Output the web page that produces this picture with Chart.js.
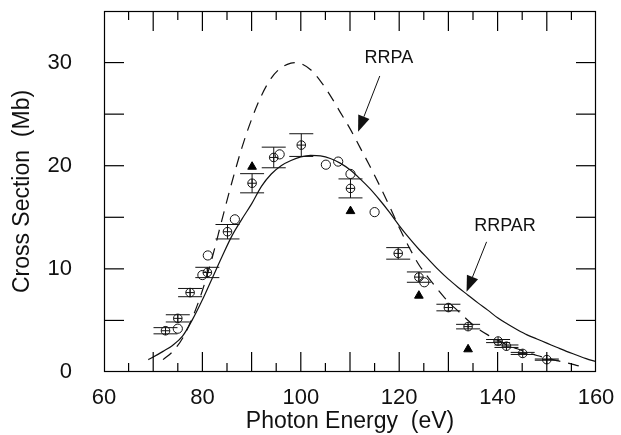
<!DOCTYPE html>
<html><head><meta charset="utf-8">
<script src="https://cdn.jsdelivr.net/npm/chart.js@4.4.0/dist/chart.umd.min.js"></script>
<style>html,body{margin:0;padding:0;background:#fff}#wrap{width:621px;height:435px}</style>
</head><body><div id="wrap"><canvas id="c" width="621" height="435"></canvas></div>
<script>
// RRPAR (solid curve)
const rrparEnergy = [69,70,72,74,76,78,80,82,84,86,88,90,92,94,96,98,100,102,104,106,108,110,112,114,116,118,120,122,124,126,128,130,132,134,136,138,140,142,144,146,148,150,152,154,156,158,160];
const rrparSigma  = [1.2,1.45,2.0,2.6,3.5,5.1,7.0,9.1,11.2,13.2,14.8,16.3,18.0,19.2,20.0,20.5,20.85,21.0,20.95,20.7,20.25,19.6,18.75,17.8,16.7,15.5,14.2,13.0,11.9,10.9,9.9,9.0,8.2,7.45,6.7,6.0,5.25,4.65,4.1,3.6,3.2,2.8,2.4,2.0,1.65,1.3,1.0];
// RRPA (dashed curve)
const rrpaEnergy = [72,74,76,78,80,82,84,86,88,90,92,94,96,98,99,100,102,104,106,108,110,112,114,116,118,120,122,124,126,128,130,132,134,136,138,140,142,144,146,148,150,152,154,156,158];
const rrpaSigma  = [1.2,2.0,3.3,5.3,7.9,11.1,14.8,18.4,21.7,24.5,26.8,28.5,29.5,29.95,30.0,29.9,29.3,28.2,26.8,25.2,23.6,21.8,20.0,18.1,16.1,14.0,12.1,10.4,9.1,7.9,6.8,5.9,5.0,4.2,3.6,3.1,2.6,2.25,1.9,1.6,1.35,1.1,0.9,0.65,0.4];
// Experiment A (crossed circles with error bars)
const expAEnergy = [72.5,75.0,77.5,81.0,85.1,90.1,94.5,100.1,110.1,119.8,124.0,130.0,134.0,140.1,141.8,145.1,150.0];
const expASigma  = [4.0,5.2,7.7,9.65,13.6,18.3,20.8,22.0,17.8,11.5,9.2,6.25,4.4,3.0,2.5,1.8,1.2];
const expAError  = [0.3,0.35,0.4,0.5,0.7,0.93,1.0,1.1,0.92,0.56,0.5,0.32,0.22,0.15,0.12,0.1,0.06];
// Experiment B (open circles)
const expBEnergy = [75.0,80.0,81.1,86.6,95.7,105.1,107.6,110.1,115.0,125.1];
const expBSigma  = [4.2,9.4,11.3,14.8,21.1,20.1,20.4,19.2,15.5,8.7];
// Experiment C (filled triangles)
const expCEnergy = [90.1,110.1,124.0,134.0];
const expCSigma  = [19.9,15.6,7.4,2.2];
// Axis ticks
const xTickValues = [60,80,100,120,140,160];
const yTickValues = [0,10,20,30];
const xMarkValues = [65,70,75,80,85,90,95,100,105,110,115,120,125,130,135,140,145,150,155];
const yMarkValues = [5,10,15,20,25,30];
// Curve labels
const curveLabels = ['RRPA','RRPAR'];
const labelAt  = [[117.9,30.4],[141.5,14.2]];
const arrowTail = [[116.05,28.7],[137.76,12.62]];
const arrowTip  = [[111.64,23.3],[133.69,7.77]];

const pts = (xs, ys) => xs.map((x,i)=>({x:x, y:ys[i]}));
const INK = '#111';
const FONT = "'Liberation Sans', Arial, Helvetica, sans-serif";

function seg(ctx, x0, y0, x1, y1) {
  ctx.beginPath(); ctx.moveTo(x0, y0); ctx.lineTo(x1, y1); ctx.stroke();
}

const framePlugin = {
  id: 'frame',
  beforeDatasetsDraw(chart) {
    const ctx = chart.ctx, x = chart.scales.x, y = chart.scales.y;
    ctx.save();
    ctx.setLineDash([]);
    ctx.strokeStyle = INK; ctx.lineWidth = 1;
    expAEnergy.forEach((e,i)=>{
      const px = x.getPixelForValue(e);
      const p1 = y.getPixelForValue(expASigma[i]+expAError[i]);
      const p2 = y.getPixelForValue(expASigma[i]-expAError[i]);
      seg(ctx, px, p1, px, p2);
      seg(ctx, px-12, p1, px+12, p1);
      seg(ctx, px-12, p2, px+12, p2);
    });
    ctx.restore();
  },
  afterDraw(chart) {
    const ctx = chart.ctx, a = chart.chartArea, x = chart.scales.x, y = chart.scales.y;
    ctx.save();
    ctx.setLineDash([]);
    ctx.strokeStyle = '#000'; ctx.lineWidth = 1.2;
    ctx.strokeRect(a.left+0.5, a.top+0.5, a.right-a.left-1, a.bottom-a.top-1);
    for (const v of xMarkValues) {
      const px = x.getPixelForValue(v);
      const len = (v % 10 === 0) ? 20 : 9;
      seg(ctx, px, a.bottom, px, a.bottom-len);
      seg(ctx, px, a.top, px, a.top+len);
    }
    for (const v of yMarkValues) {
      const py = y.getPixelForValue(v);
      seg(ctx, a.left, py, a.left+20, py);
      seg(ctx, a.right, py, a.right-20, py);
    }
    // curve labels + arrows
    ctx.lineWidth = 1;
    ctx.fillStyle = INK; ctx.strokeStyle = INK;
    ctx.font = "18px " + FONT;
    ctx.textAlign = 'center'; ctx.textBaseline = 'middle';
    curveLabels.forEach((t,i)=>{
      ctx.fillText(t, x.getPixelForValue(labelAt[i][0]), y.getPixelForValue(labelAt[i][1]));
      const x0 = x.getPixelForValue(arrowTail[i][0]), y0 = y.getPixelForValue(arrowTail[i][1]);
      const x1 = x.getPixelForValue(arrowTip[i][0]), y1 = y.getPixelForValue(arrowTip[i][1]);
      const ang = Math.atan2(y1-y0, x1-x0);
      const hl = 16, hw = 6;
      const bx = x1 - hl*Math.cos(ang), by = y1 - hl*Math.sin(ang);
      seg(ctx, x0, y0, bx, by);
      ctx.beginPath();
      ctx.moveTo(x1,y1);
      ctx.lineTo(bx + hw*Math.sin(ang), by - hw*Math.cos(ang));
      ctx.lineTo(bx - hw*Math.sin(ang), by + hw*Math.cos(ang));
      ctx.closePath(); ctx.fill();
    });
    ctx.restore();
  }
};

new Chart(document.getElementById('c').getContext('2d'), {
  type: 'scatter',
  data: { datasets: [
    { label:'RRPAR', data: pts(rrparEnergy, rrparSigma), showLine:true, borderColor:INK, borderWidth:1.2, pointRadius:0, cubicInterpolationMode:'monotone', fill:false },
    { label:'RRPA', data: pts(rrpaEnergy, rrpaSigma), showLine:true, borderColor:INK, borderWidth:1.2, borderDash:[11,8], pointRadius:0, cubicInterpolationMode:'monotone', fill:false },
    { label:'Expt A', data: pts(expAEnergy, expASigma), pointStyle:'circle', pointRadius:4.3, borderColor:INK, backgroundColor:'rgba(255,255,255,0)', borderWidth:1 },
    { label:'Expt A+', data: pts(expAEnergy, expASigma), pointStyle:'cross', pointRadius:4.3, borderColor:INK, borderWidth:1 },
    { label:'Expt B', data: pts(expBEnergy, expBSigma), pointStyle:'circle', pointRadius:4.6, borderColor:INK, backgroundColor:'rgba(255,255,255,0)', borderWidth:1 },
    { label:'Expt C', data: pts(expCEnergy, expCSigma), pointStyle:'triangle', pointRadius:5, borderColor:'#000', backgroundColor:'#000', borderWidth:1 }
  ]},
  options: {
    responsive:false, animation:false, devicePixelRatio:1,
    layout:{ padding:{ left:0, right:25, top:11, bottom:0 } },
    plugins:{ legend:{display:false}, tooltip:{enabled:false} },
    scales:{
      x:{ type:'linear', min:60, max:160,
        afterBuildTicks: s=>{ s.ticks = xTickValues.map(v=>({value:v})); },
        afterFit: s=>{ s.height = 63; s.paddingLeft = 0; s.paddingRight = 0; },
        grid:{ display:false }, border:{ display:false },
        ticks:{ padding:5, color:INK, font:{ family:FONT, size:22 }, maxRotation:0 },
        title:{ display:true, text:'Photon Energy  (eV)', color:INK, font:{ family:FONT, size:23 }, padding:{top:0, bottom:0} } },
      y:{ type:'linear', min:0, max:35,
        afterBuildTicks: s=>{ s.ticks = yTickValues.map(v=>({value:v})); },
        afterFit: s=>{ s.width = 104; s.paddingTop = 0; s.paddingBottom = 0; },
        grid:{ display:false }, border:{ display:false },
        ticks:{ padding:24, color:INK, font:{ family:FONT, size:22 } },
        title:{ display:true, text:'Cross Section  (Mb)', color:INK, font:{ family:FONT, size:23 }, padding:{top:9, bottom:0} } }
    }
  },
  plugins:[framePlugin]
});
</script></body></html>
